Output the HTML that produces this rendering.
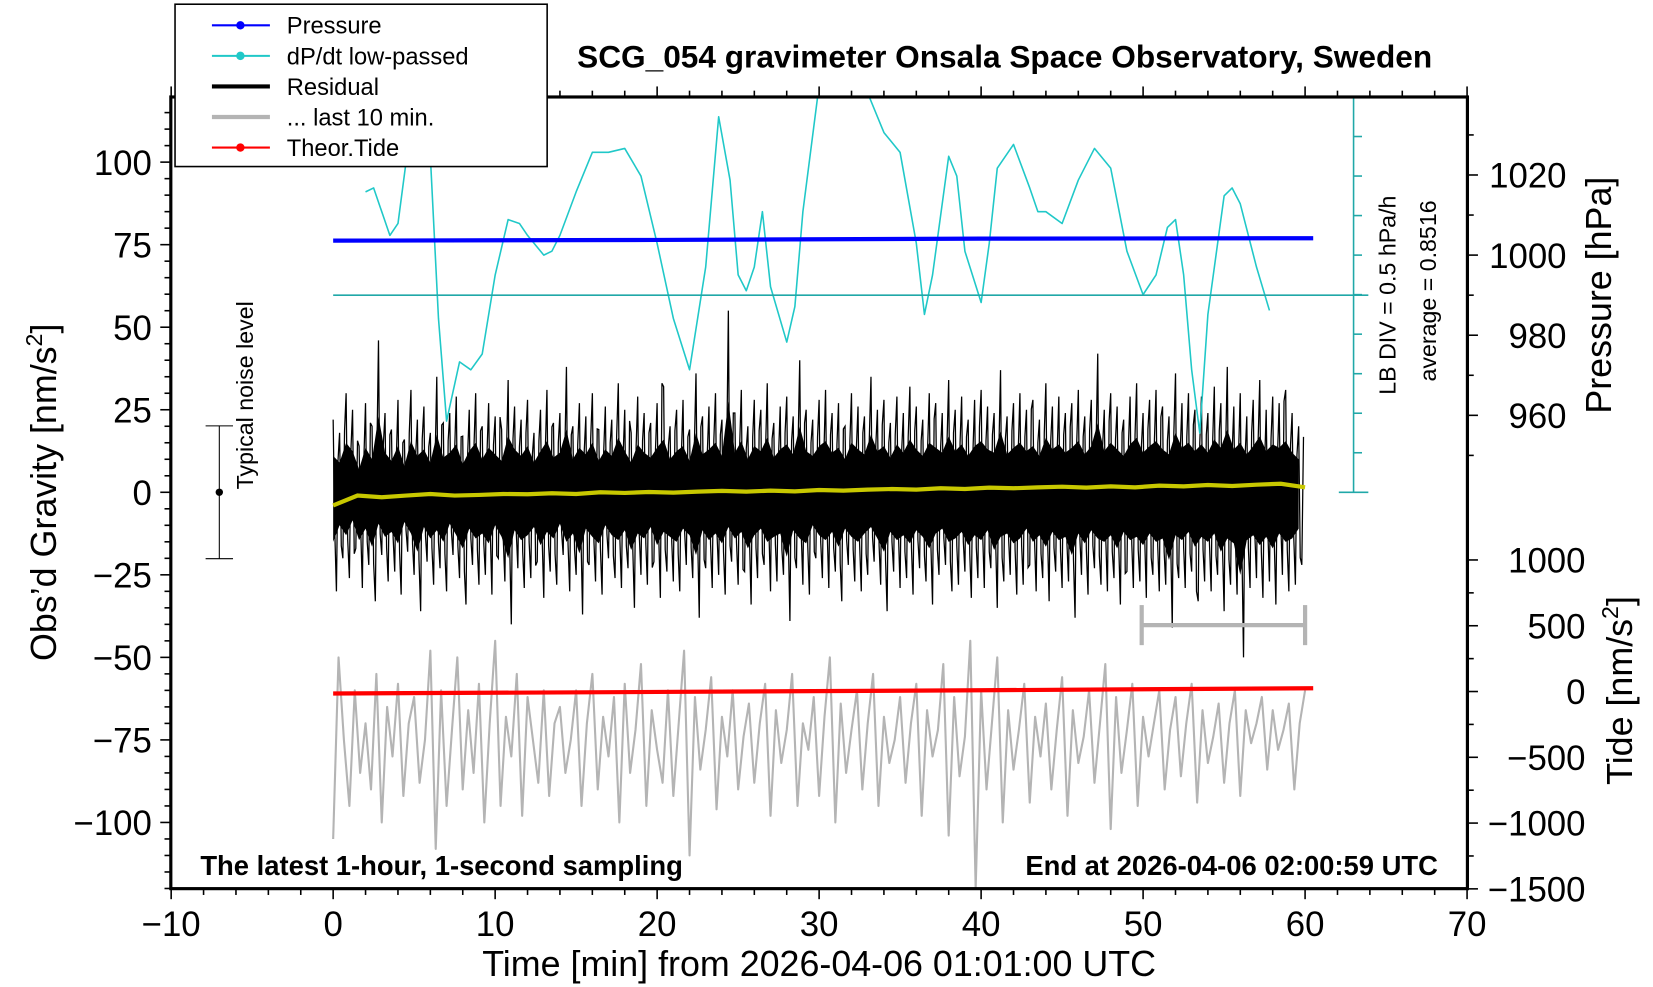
<!DOCTYPE html>
<html><head><meta charset="utf-8"><style>
html,body{margin:0;padding:0;background:#fff;}
svg{display:block;font-family:"Liberation Sans",sans-serif;}
</style></head><body>
<svg id="chart" width="1653" height="987" viewBox="0 0 1568 936.3" xmlns="http://www.w3.org/2000/svg">
<defs><clipPath id="pc"><rect x="162" y="92" width="1230" height="751"/></clipPath></defs>
<g id="marks" clip-path="url(#pc)"></g>
<g id="axes"></g>
</svg>
<script>
const residualHigh=[22,18,30,25,14,27,20,46,24,19,28,16,31,22,26,18,35,21,24,29,17,25,30,20,27,23,19,34,26,22,28,18,25,31,21,24,38,20,27,23,30,19,26,22,33,25,18,29,24,21,27,32,20,25,28,19,36,23,26,30,22,55,24,31,20,28,25,33,21,26,29,23,40,25,22,28,31,24,27,20,30,26,23,35,25,28,21,29,24,32,26,22,30,27,24,34,25,29,22,28,31,26,24,37,23,27,30,25,28,22,33,26,29,24,27,31,23,28,42,25,30,26,22,29,33,24,28,31,26,23,36,27,30,25,29,24,32,27,38,26,30,23,28,34,25,29,27,31,24,20];
const residualLow=[-30,-20,-26,-17,-29,-22,-33,-19,-27,-24,-31,-18,-25,-36,-21,-28,-23,-30,-19,-26,-34,-22,-28,-25,-31,-20,-27,-40,-23,-29,-26,-21,-32,-24,-28,-19,-30,-25,-37,-22,-27,-31,-20,-26,-29,-23,-35,-25,-28,-21,-32,-24,-27,-30,-22,-26,-38,-23,-29,-25,-31,-21,-28,-24,-34,-26,-22,-30,-27,-25,-39,-23,-28,-31,-20,-26,-29,-24,-33,-22,-27,-30,-25,-21,-28,-36,-24,-29,-26,-31,-23,-27,-34,-25,-22,-30,-28,-24,-32,-26,-29,-23,-35,-27,-25,-31,-28,-22,-30,-26,-33,-24,-29,-27,-38,-25,-31,-23,-28,-30,-26,-34,-24,-29,-27,-32,-25,-30,-28,-41,-26,-29,-24,-33,-27,-30,-25,-36,-28,-31,-50,-29,-26,-32,-27,-34,-25,-30,-28,-22];
const smoothVals=[-4,-1,-1.5,-1,-0.5,-1,-0.8,-0.5,-0.6,-0.3,-0.5,0,-0.2,0.1,-0.1,0.2,0.4,0.2,0.5,0.3,0.7,0.5,0.8,1,0.8,1.2,1,1.4,1.2,1.5,1.7,1.4,1.8,1.5,2,1.8,2.2,1.9,2.3,2.6,1.5];
const grayVals=[-105,-50,-75,-95,-60,-85,-70,-90,-55,-100,-65,-80,-58,-92,-70,-62,-88,-75,-48,-108,-60,-95,-72,-50,-90,-66,-85,-58,-100,-70,-45,-95,-68,-80,-55,-98,-62,-75,-88,-60,-92,-70,-65,-85,-75,-60,-95,-70,-55,-90,-68,-80,-62,-100,-58,-85,-72,-52,-95,-66,-78,-88,-60,-92,-70,-48,-110,-62,-84,-72,-56,-96,-68,-80,-60,-90,-74,-64,-88,-70,-58,-98,-66,-82,-72,-55,-95,-70,-78,-62,-92,-68,-50,-100,-64,-85,-72,-60,-90,-70,-55,-95,-68,-82,-75,-62,-88,-70,-58,-98,-66,-80,-72,-52,-104,-62,-86,-74,-45,-120,-60,-90,-70,-50,-100,-66,-84,-72,-58,-94,-68,-80,-64,-90,-72,-56,-98,-66,-82,-74,-60,-88,-70,-52,-102,-62,-85,-72,-58,-95,-68,-80,-70,-60,-90,-72,-62,-86,-70,-58,-94,-66,-82,-74,-64,-88,-70,-60,-92,-66,-76,-70,-62,-84,-66,-78,-72,-64,-90,-70,-60];
const dpTimes=[2,2.5,3.5,4,4.8,5.5,6,6.5,7,7.8,8.5,9.2,10,10.8,11.5,12,13,13.5,14,15,16,17,18,19,20,21,22,23,23.8,24.5,25,25.5,26,26.5,27,28,28.5,29,30,31,32,33,34,35,36,36.5,37,38,38.5,39,40,40.5,41,42,43,43.5,44,45,46,47,48,49,50,50.8,51.5,52,52.5,53,53.5,54,55,55.5,56,57,57.8];
const dpVals=[7.6,7.7,6.5,6.8,9.3,10.4,8.5,4.4,1.8,3.3,3.1,3.5,5.5,6.9,6.8,6.5,6,6.1,6.5,7.6,8.6,8.6,8.7,8.0,6.3,4.4,3.1,5.7,9.5,7.9,5.5,5.1,5.7,7.1,5.2,3.8,4.7,7.1,10.3,10.6,10.3,10.1,9.1,8.6,6.3,4.5,5.5,8.5,8.0,6.1,4.8,6.3,8.2,8.8,7.7,7.1,7.1,6.8,7.9,8.7,8.2,6.1,5.0,5.5,6.7,6.9,5.5,3.1,1.5,4.5,7.5,7.7,7.3,5.7,4.6];
const pressTimes=[0,20,40,60.5];
const pressVals=[1003.6,1003.8,1004.1,1004.2];
const tideTimes=[0,20,40,60.5];
const tideVals=[-15,-3,10,25];
const xTicks=[-10,0,10,20,30,40,50,60,70];
const yTicks=[100,75,50,25,0,-25,-50,-75,-100];
const pTicks=[1020,1000,980,960];
const tTicks=[1000,500,0,-500,-1000,-1500];

const NS="http://www.w3.org/2000/svg";
const X=t=>316+t*(1238-316)/60;
const YL=v=>467-v*3.132;
const YP=p=>242-(p-1000)*3.8;
const YT=v=>656-v*0.1248;
const YD=d=>467-d*37.5;
const marks=document.getElementById('marks');
function el(tag,attrs,parent){const e=document.createElementNS(NS,tag);for(const k in attrs)e.setAttribute(k,attrs[k]);(parent||marks).appendChild(e);return e;}
function pts(xs,ys){return xs.map((x,i)=>x.toFixed(1)+','+ys[i].toFixed(1)).join(' ');}

let gx=grayVals.map((v,i)=>X(i*60/(grayVals.length-1)));
let g=el('polyline',{points:pts(gx,grayVals.map(YL)),fill:'none',stroke:'#b4b4b4','stroke-width':2,'stroke-linejoin':'round'});


let rx=[],ry=[];const n=residualHigh.length;
for(let i=0;i<n;i++){const t=i*60/n;
rx.push(X(t));ry.push(YL(residualHigh[i]));
rx.push(X(t+15/n));ry.push(YL(residualLow[(i+7)%n]*0.6));
rx.push(X(t+30/n));ry.push(YL(residualLow[i]));
rx.push(X(t+45/n));ry.push(YL(residualHigh[(i+11)%n]*0.6));}
let r=el('polyline',{points:pts(rx,ry),fill:'none',stroke:'#000','stroke-width':1.2});


let fx=[],fy=[];
for(let i=0;i<n;i++){fx.push(X(i*60/n));fy.push(YL(residualHigh[i]*0.5));}
for(let i=n-1;i>=0;i--){fx.push(X(i*60/n));fy.push(YL(residualLow[i]*0.5));}
let f=el('polygon',{points:pts(fx,fy),fill:'#000'});


let s=el('polyline',{points:pts(smoothVals.map((v,i)=>X(i*60/(smoothVals.length-1))),smoothVals.map(YL)),fill:'none',stroke:'#c8c800','stroke-width':4});


let c=el('polyline',{points:pts(dpTimes.map(X),dpVals.map(YD)),fill:'none',stroke:'#20c8c8','stroke-width':1.5,'stroke-linejoin':'round'});


let p=el('polyline',{points:pts(pressTimes.map(X),pressVals.map(YP)),fill:'none',stroke:'#0000ff','stroke-width':4});


let td=el('polyline',{points:pts(tideTimes.map(X),tideVals.map(YT)),fill:'none',stroke:'#ff0000','stroke-width':4});


</script>
<script>
(function(){
const ax=document.getElementById('axes');
let h='';
h+='<line x1="316" y1="280" x2="1298" y2="280" stroke="#20a8a8" stroke-width="1.5"/>';
h+='<line x1="1284" y1="92" x2="1284" y2="467" stroke="#20a8a8" stroke-width="1.5"/>';
for(let i=0;i<=10;i++){const y=467-i*37.5;const w=(i==0||i==10)?[1270,1298]:[1284,1292];h+=`<line x1="${w[0]}" y1="${y}" x2="${w[1]}" y2="${y}" stroke="#20a8a8" stroke-width="1.5"/>`;}
h+='<g stroke="#b4b4b4" stroke-width="4"><line x1="1083" y1="593" x2="1238" y2="593"/><line x1="1083" y1="574" x2="1083" y2="612"/><line x1="1238" y1="574" x2="1238" y2="612"/></g>';
h+='<g stroke="#000" stroke-width="1"><line x1="208" y1="404" x2="208" y2="530"/><line x1="195" y1="404" x2="221" y2="404"/><line x1="195" y1="530" x2="221" y2="530"/></g><circle cx="208" cy="467" r="3.5" fill="#000"/>';
h+='<text transform="translate(240,375) rotate(-90)" text-anchor="middle" font-size="22">Typical noise level</text>';
h+='<rect x="162" y="92" width="1230" height="751" fill="none" stroke="#000" stroke-width="3"/>';
for(let t=-10;t<=70;t+=2){const x=316+t*15.3667;const big=t%10==0;h+=`<line x1="${x}" y1="843" x2="${x}" y2="${843+(big?10:6)}" stroke="#000" stroke-width="1.5"/><line x1="${x}" y1="92" x2="${x}" y2="${92-(big?10:6)}" stroke="#000" stroke-width="1.5"/>`;}
for(let v=-120;v<=120;v+=5){const y=467-v*3.132;if(y<92||y>843)continue;const big=v%25==0;h+=`<line x1="${162-(big?10:6)}" y1="${y}" x2="162" y2="${y}" stroke="#000" stroke-width="1.5"/>`;}
for(let p=1030;p>=950;p-=10){const y=242-(p-1000)*3.8;if(y<92||y>470)continue;const big=p%20==0;h+=`<line x1="1392" y1="${y}" x2="${1392+(big?10:6)}" y2="${y}" stroke="#000" stroke-width="1.5"/>`;}
for(let v=-1500;v<=1000;v+=250){const y=656-v*0.1248;const big=v%500==0;h+=`<line x1="1392" y1="${y}" x2="${1392+(big?10:6)}" y2="${y}" stroke="#000" stroke-width="1.5"/>`;}
ax.innerHTML=h;
function txt(s,attrs){const e=document.createElementNS(NS,'text');for(const k in attrs)e.setAttribute(k,attrs[k]);e.textContent=s;ax.appendChild(e);return e;}
xTicks.forEach(t=>{const e=txt(String(t).replace('-','\u2212'),{x:316+t*15.3667,y:888,'text-anchor':'middle','font-size':33});

});
yTicks.forEach(v=>{const e=txt(String(v).replace('-','\u2212'),{x:144,y:467-v*3.132+12,'text-anchor':'end','font-size':33});

});
pTicks.forEach(v=>{const e=txt(String(v),{x:1486,y:242-(v-1000)*3.8+12,'text-anchor':'end','font-size':33});

});
tTicks.forEach(v=>{const e=txt(String(v).replace('-','\u2212'),{x:1504,y:656-v*0.1248+12,'text-anchor':'end','font-size':33});

});
})();
</script>
<svg style="position:absolute;left:0;top:0" width="1653" height="987" viewBox="0 0 1568 936.3" xmlns="http://www.w3.org/2000/svg" font-family="Liberation Sans, sans-serif">
<text x="953" y="64" text-anchor="middle" font-size="30" font-weight="bold">SCG_054 gravimeter Onsala Space Observatory, Sweden</text>
<text x="777" y="926" text-anchor="middle" font-size="34">Time [min] from 2026-04-06 01:01:00 UTC</text>
<text transform="translate(53,467) rotate(-90)" text-anchor="middle" font-size="34">Obs’d Gravity [nm/s<tspan font-size="22" dy="-13">2</tspan><tspan dy="13">]</tspan></text>
<text transform="translate(1528,280) rotate(-90)" text-anchor="middle" font-size="34">Pressure [hPa]</text>
<text transform="translate(1548,655) rotate(-90)" text-anchor="middle" font-size="34">Tide [nm/s<tspan font-size="22" dy="-13">2</tspan><tspan dy="13">]</tspan></text>
<text transform="translate(1324,280) rotate(-90)" text-anchor="middle" font-size="22">LB DIV = 0.5 hPa/h</text>
<text transform="translate(1362,276) rotate(-90)" text-anchor="middle" font-size="22">average = 0.8516</text>
<text x="190" y="830" font-size="26" font-weight="bold">The latest 1-hour, 1-second sampling</text>
<text x="1364" y="830" text-anchor="end" font-size="26" font-weight="bold">End at 2026-04-06 02:00:59 UTC</text>
<g>
<rect x="166" y="4" width="353" height="154" fill="#fff" stroke="#000" stroke-width="1.5"/>
<line x1="201" y1="24" x2="256" y2="24" stroke="#0000ff" stroke-width="2"/><circle cx="228" cy="24" r="4" fill="#0000ff"/>
<text x="272" y="32" font-size="22.5">Pressure</text>
<line x1="201" y1="53" x2="256" y2="53" stroke="#20c8c8" stroke-width="2"/><circle cx="228" cy="53" r="4" fill="#20c8c8"/>
<text x="272" y="61" font-size="22.5">dP/dt low-passed</text>
<line x1="201" y1="82" x2="256" y2="82" stroke="#000" stroke-width="4"/>
<text x="272" y="90" font-size="22.5">Residual</text>
<line x1="201" y1="111" x2="256" y2="111" stroke="#b4b4b4" stroke-width="4"/>
<text x="272" y="119" font-size="22.5">... last 10 min.</text>
<line x1="201" y1="140" x2="256" y2="140" stroke="#ff0000" stroke-width="2"/><circle cx="228" cy="140" r="4" fill="#ff0000"/>
<text x="272" y="148" font-size="22.5">Theor.Tide</text>
</g>
</svg>
</body></html>
